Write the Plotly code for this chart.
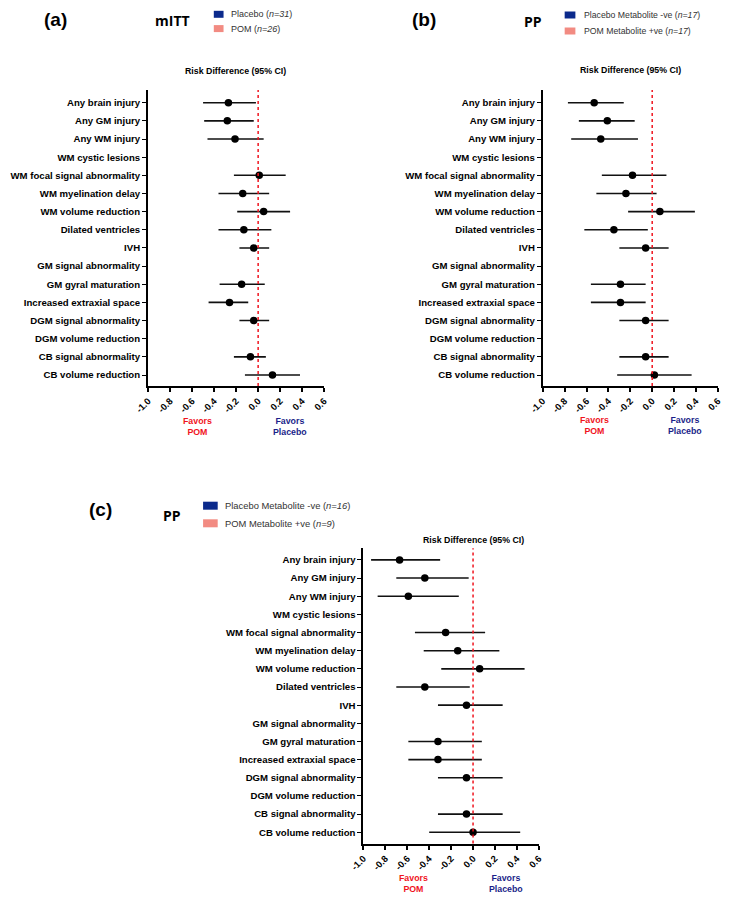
import plotly.graph_objects as go

W, H = 749, 904

labels = ["Any brain injury", "Any GM injury", "Any WM injury", "WM cystic lesions",
          "WM focal signal abnormality", "WM myelination delay", "WM volume reduction",
          "Dilated ventricles", "IVH", "GM signal abnormality", "GM gyral maturation",
          "Increased extraxial space", "DGM signal abnormality", "DGM volume reduction",
          "CB signal abnormality", "CB volume reduction"]

a_est = [-0.27, -0.28, -0.21, None, 0.01, -0.14, 0.05, -0.13, -0.04, None, -0.15, -0.26, -0.04, None, -0.07, 0.13]
a_lo = [-0.50, -0.49, -0.46, None, -0.22, -0.36, -0.19, -0.36, -0.17, None, -0.35, -0.45, -0.17, None, -0.22, -0.12]
a_hi = [-0.02, -0.04, 0.05, None, 0.25, 0.10, 0.29, 0.12, 0.10, None, 0.06, -0.09, 0.10, None, 0.07, 0.38]

b_est = [-0.53, -0.41, -0.47, None, -0.18, -0.24, 0.07, -0.35, -0.06, None, -0.29, -0.29, -0.06, None, -0.06, 0.02]
b_lo = [-0.77, -0.67, -0.74, None, -0.46, -0.51, -0.22, -0.62, -0.30, None, -0.56, -0.56, -0.30, None, -0.30, -0.32]
b_hi = [-0.26, -0.16, -0.13, None, 0.13, 0.04, 0.39, -0.04, 0.15, None, -0.06, -0.06, 0.15, None, 0.15, 0.36]

c_est = [-0.67, -0.44, -0.59, None, -0.25, -0.14, 0.06, -0.44, -0.06, None, -0.32, -0.32, -0.06, None, -0.06, 0.00]
c_lo = [-0.93, -0.70, -0.87, None, -0.53, -0.45, -0.29, -0.70, -0.32, None, -0.59, -0.59, -0.32, None, -0.32, -0.40]
c_hi = [-0.30, -0.04, -0.13, None, 0.11, 0.24, 0.47, -0.03, 0.27, None, 0.08, 0.08, 0.27, None, 0.27, 0.43]

x_ticks = [-1.0, -0.8, -0.6, -0.4, -0.2, 0.0, 0.2, 0.4, 0.6]

panel_tags = ["(a)", "(b)", "(c)"]
panel_titles = ["mITT", "PP", "PP"]
legend_texts = [
    ["Placebo (<i>n=31</i>)", "POM (<i>n=26</i>)"],
    ["Placebo Metabolite -ve (<i>n=17</i>)", "POM Metabolite +ve (<i>n=17</i>)"],
    ["Placebo Metabolite -ve (<i>n=16</i>)", "POM Metabolite +ve (<i>n=9</i>)"],
]
axis_title = "Risk Difference (95% CI)"
favors_left = "Favors<br>POM"
favors_right = "Favors<br>Placebo"

FONT = "Liberation Sans, Arial, sans-serif"
NAVY = "#0b2a8c"
PINK = "#f28b82"
RED = "#f0141e"
FAV_BLUE = "#1b1f8a"


def xp(px):
    return px / W


def yp(py):
    return 1 - py / H


fig = go.Figure()

panels = [
    dict(est=a_est, lo=a_lo, hi=a_hi, xdom=(137.5, 318.3), ydom=(90, 386), yr=(15.606, -0.70)),
    dict(est=b_est, lo=b_lo, hi=b_hi, xdom=(542.5, 722.2), ydom=(90, 386), yr=(15.606, -0.70)),
    dict(est=c_est, lo=c_lo, hi=c_hi, xdom=(358.5, 538.5), ydom=(548.3, 843.5), yr=(15.62, -0.64)),
]

rows = list(range(len(labels)))

for i, p in enumerate(panels):
    sfx = "" if i == 0 else str(i + 1)
    plus = [None if e is None else h - e for e, h in zip(p["est"], p["hi"])]
    minus = [None if e is None else e - l for e, l in zip(p["est"], p["lo"])]
    fig.add_trace(go.Scatter(
        x=p["est"], y=rows, mode="markers",
        marker=dict(color="black", size=7.5, symbol="circle"),
        error_x=dict(type="data", symmetric=False, array=plus, arrayminus=minus,
                     color="#111111", thickness=1.6, width=0),
        xaxis="x" + sfx, yaxis="y" + sfx, showlegend=False, hoverinfo="skip",
    ))
    fig.update_layout(**{
        "xaxis" + sfx: dict(
            domain=[xp(p["xdom"][0]), xp(p["xdom"][1])], anchor="y" + sfx,
            range=[-1.0, 0.6], tickvals=x_ticks,
            ticktext=["<b>%.1f</b>" % v for v in x_ticks], tickangle=-45,
            showgrid=False, zeroline=False, showline=True, linecolor="black", linewidth=2.2,
            ticks="outside", ticklen=4, tickwidth=1.5, tickcolor="black",
            tickfont=dict(family=FONT, size=9.3, color="black"),
        ),
        "yaxis" + sfx: dict(
            domain=[yp(p["ydom"][1]), yp(p["ydom"][0])], anchor="x" + sfx,
            range=list(p["yr"]), tickvals=rows,
            ticktext=["<b>%s</b>" % s for s in labels],
            showgrid=False, zeroline=False, showline=True, linecolor="black", linewidth=2,
            ticks="outside", ticklen=4, tickwidth=1.3, tickcolor="black",
            tickfont=dict(family=FONT, size=9.6, color="black"),
        ),
    })
    fig.add_shape(type="line", xref="x" + sfx, yref="y" + sfx + " domain",
                  x0=0, x1=0, y0=0, y1=1, line=dict(color=RED, width=1.5, dash="dot"))

ann = []
shapes = []

headers = [
    dict(tag=(43, 19), title=(162.5, 20), sq_x=205, sq_w=10, sq_h=7, rows=(14.3, 28.6), tx=221, ls=9,
         rd=(227.5, 71), fav=(188, 283, 426)),
    dict(tag=(421, 19), title=(532.5, 22), sq_x=565, sq_w=11, sq_h=7, rows=(15, 31), tx=582.5, ls=8.7,
         rd=(633, 70), fav=(596, 688.7, 425.5)),
    dict(tag=(89, 509), title=(162, 515), sq_x=194, sq_w=15, sq_h=8, rows=(505.7, 523.3), tx=214.5, ls=9.4,
         rd=(471, 540), fav=(410, 505, 883.5)),
]

for i, hd in enumerate(headers):
    ann.append(dict(x=xp(hd["tag"][0]), y=yp(hd["tag"][1]), text="<b>%s</b>" % panel_tags[i],
                    font=dict(family=FONT, size=19, color="black")))
    ann.append(dict(x=xp(hd["title"][0]), y=yp(hd["title"][1]), text="<b>%s</b>" % panel_titles[i],
                    font=dict(family="Open Sans, " + FONT, size=14, color="black")))
    for j, col in enumerate([NAVY, PINK]):
        ry = hd["rows"][j]
        shapes.append(dict(type="rect", xref="paper", yref="paper",
                           x0=xp(hd["sq_x"]), x1=xp(hd["sq_x"] + hd["sq_w"]),
                           y0=yp(ry + hd["sq_h"] / 2), y1=yp(ry - hd["sq_h"] / 2),
                           fillcolor=col, line=dict(width=0)))
        ann.append(dict(x=xp(hd["tx"]), y=yp(ry), text=legend_texts[i][j], xanchor="left",
                        font=dict(family=FONT, size=hd["ls"], color="#333333")))
    ann.append(dict(x=xp(hd["rd"][0]), y=yp(hd["rd"][1]), text="<b>%s</b>" % axis_title,
                    font=dict(family=FONT, size=8.8, color="black")))
    ann.append(dict(x=xp(hd["fav"][0]), y=yp(hd["fav"][2]), text="<b>%s</b>" % favors_left,
                    font=dict(family=FONT, size=8.8, color=RED)))
    ann.append(dict(x=xp(hd["fav"][1]), y=yp(hd["fav"][2]), text="<b>%s</b>" % favors_right,
                    font=dict(family=FONT, size=8.8, color=FAV_BLUE)))

for a in ann:
    a.setdefault("xanchor", "center")
    a.update(xref="paper", yref="paper", yanchor="middle", showarrow=False)

fig.update_layout(
    width=W, height=H, margin=dict(l=0, r=0, t=0, b=0),
    paper_bgcolor="white", plot_bgcolor="white",
    annotations=ann, shapes=list(fig.layout.shapes) + shapes,
    showlegend=False,
)

fig.write_html("out.html", config={"displayModeBar": False},
               post_script="document.body.style.margin='0px';document.body.style.overflow='hidden';")
